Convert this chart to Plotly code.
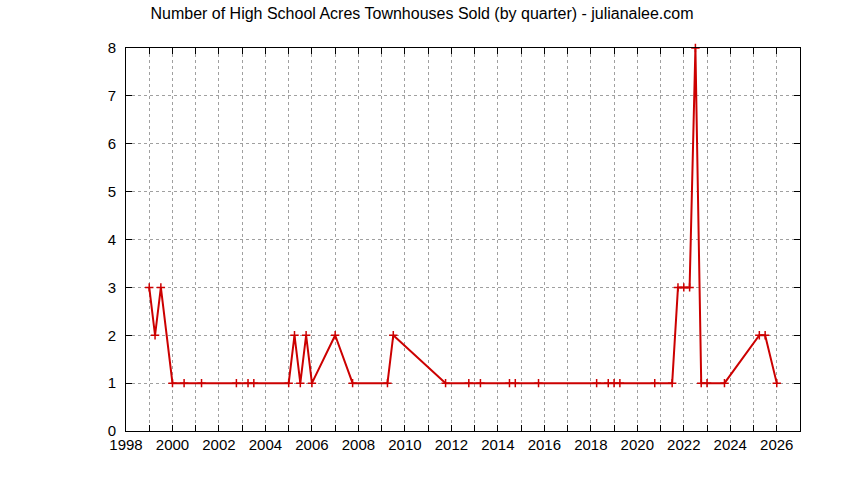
import plotly.graph_objects as go

# quarters (decimal year) and number sold
quarters = [
    1999.0, 1999.25, 1999.5, 2000.0, 2000.5, 2001.25, 2002.75, 2003.25, 2003.5,
    2005.0, 2005.25, 2005.5, 2005.75, 2006.0, 2007.0, 2007.75, 2009.25, 2009.5,
    2011.75, 2012.75, 2013.25, 2014.5, 2014.75, 2015.75, 2018.25, 2018.75,
    2019.0, 2019.25, 2020.75, 2021.5, 2021.75, 2022.0, 2022.25, 2022.5,
    2022.75, 2023.0, 2023.75, 2025.25, 2025.5, 2026.0,
]
sold = [
    3, 2, 3, 1, 1, 1, 1, 1, 1,
    1, 2, 1, 2, 1, 2, 1, 1, 2,
    1, 1, 1, 1, 1, 1, 1, 1,
    1, 1, 1, 1, 3, 3, 3, 8,
    1, 1, 1, 2, 2, 1,
]

years = list(range(1998, 2028))
year_labels = [str(y) if y % 2 == 0 else "" for y in years]
y_ticks = list(range(0, 9))

fig = go.Figure()
fig.add_trace(go.Scatter(
    x=quarters, y=sold,
    mode="lines+markers",
    line=dict(color="#cc0000", width=2),
    marker=dict(symbol="cross-thin", size=6, line=dict(color="#cc0000", width=1.5)),
    showlegend=False,
    cliponaxis=False,
))

axis_style = dict(
    showline=True, linecolor="black", linewidth=1, mirror="allticks",
    ticks="inside", ticklen=6, tickcolor="black",
    showgrid=True, gridcolor="#a0a0a0", griddash="dot", gridwidth=1,
    zeroline=False,
    tickfont=dict(family="Liberation Sans, Arial, sans-serif", size=15, color="black"),
)

fig.update_xaxes(range=[1998, 2027], tickvals=years, ticktext=year_labels,
                 ticklabelstandoff=0, **axis_style)
fig.update_yaxes(range=[0, 8], tickvals=y_ticks, ticklabelstandoff=6, **axis_style)

fig.update_layout(
    width=844, height=480,
    margin=dict(l=126, r=44, t=48, b=49),
    paper_bgcolor="white", plot_bgcolor="white",
    title=dict(
        text="Number of High School Acres Townhouses Sold (by quarter) - julianalee.com",
        x=0.5, xanchor="center", y=0.973, yanchor="middle",
        font=dict(family="Liberation Sans, Arial, sans-serif", size=16, color="black"),
    ),
)

# drop the default 8px page margin so the chart sits at the window corner
fig.write_html("out.html", config={"displayModeBar": False},
               post_script="document.body.style.margin = '0';")
